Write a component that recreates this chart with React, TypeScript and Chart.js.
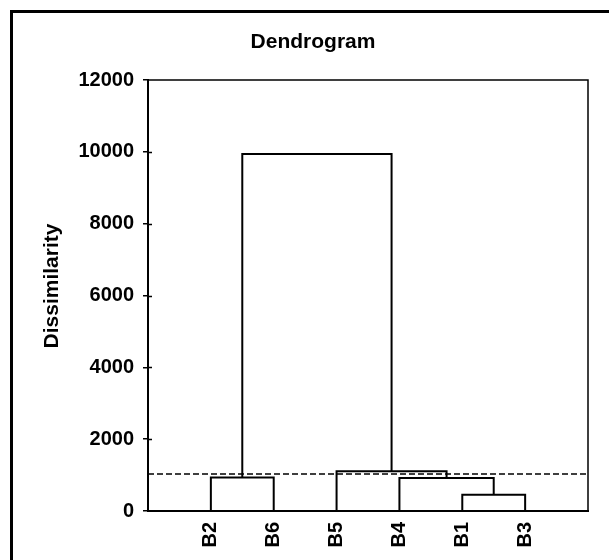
import React, { useEffect, useRef } from "react";
import { Chart, registerables } from "chart.js";

Chart.register(...registerables);

// ---- data ----
const LEAVES = ["B2", "B6", "B5", "B4", "B1", "B3"];
const LEAF_POS = [1, 2, 3, 4, 5, 6];
// agglomeration steps: node ids 0..5 are leaves, each merge creates node 6, 7, ...
const MERGE_A = [4, 3, 0, 2, 8];
const MERGE_B = [5, 6, 1, 7, 9];
const MERGE_HEIGHT = [450, 920, 930, 1110, 9940];
const CUTOFF = 1030;
const Y_MIN = 0;
const Y_MAX = 12000;
const Y_STEP = 2000;
const X_MIN = 0;
const X_MAX = 7;
const TITLE = "Dendrogram";
const Y_TITLE = "Dissimilarity";

const FONT = '"Liberation Sans", Arial, Helvetica, sans-serif';

function buildLinks() {
  const nx: number[] = [...LEAF_POS];
  const nh: number[] = LEAF_POS.map(() => 0);
  const links: { x: number; y: number }[][] = [];
  MERGE_A.forEach((a, i) => {
    const b = MERGE_B[i];
    const h = MERGE_HEIGHT[i];
    links.push([
      { x: nx[a], y: nh[a] },
      { x: nx[a], y: h },
      { x: nx[b], y: h },
      { x: nx[b], y: nh[b] },
    ]);
    nx.push((nx[a] + nx[b]) / 2);
    nh.push(h);
  });
  return links;
}

const decor = {
  id: "decor",
  beforeDraw(chart: any) {
    const { ctx, width, height } = chart;
    ctx.save();
    ctx.fillStyle = "#fff";
    ctx.fillRect(0, 0, width, height);
    ctx.restore();
  },
  afterDraw(chart: any) {
    const { ctx, chartArea } = chart;
    const { left, top, right, bottom } = chartArea;
    const yScale = chart.scales.y;
    ctx.save();
    // outer frame
    ctx.strokeStyle = "#000";
    ctx.lineWidth = 3;
    ctx.beginPath();
    ctx.moveTo(11.5, 620);
    ctx.lineTo(11.5, 11.5);
    ctx.lineTo(700, 11.5);
    ctx.stroke();
    // plot border top & right
    ctx.lineWidth = 1.5;
    ctx.beginPath();
    ctx.moveTo(left, top);
    ctx.lineTo(right, top);
    ctx.lineTo(right, bottom);
    ctx.stroke();
    // inner half of the y tick marks
    ctx.beginPath();
    yScale.ticks.forEach((t: any) => {
      if (t.value === Y_MIN || t.value === Y_MAX) return;
      const py = Math.round(yScale.getPixelForValue(t.value)) + 0.5;
      ctx.moveTo(left, py);
      ctx.lineTo(left + 4, py);
    });
    ctx.stroke();
    // title
    ctx.fillStyle = "#000";
    ctx.font = `bold 21px ${FONT}`;
    ctx.textAlign = "center";
    ctx.textBaseline = "middle";
    ctx.fillText(TITLE, 313, 42);
    // y title
    ctx.translate(52, 286);
    ctx.rotate(-Math.PI / 2);
    ctx.fillText(Y_TITLE, 0, 0);
    ctx.restore();
  },
};

export default function App() {
  const ref = useRef<HTMLCanvasElement | null>(null);
  useEffect(() => {
    document.body.style.margin = "0";
    const links = buildLinks();
    const datasets: any[] = links.map((pts) => ({
      type: "line",
      data: pts,
      borderColor: "#000",
      borderWidth: 2,
      pointRadius: 0,
      tension: 0,
      fill: false,
    }));
    datasets.push({
      type: "line",
      data: [
        { x: X_MIN, y: CUTOFF },
        { x: X_MAX, y: CUTOFF },
      ],
      borderColor: "#000",
      borderWidth: 1.5,
      borderDash: [6, 3],
      pointRadius: 0,
      fill: false,
    });
    const chart = new Chart(ref.current as HTMLCanvasElement, {
      type: "line",
      data: { datasets },
      plugins: [decor],
      options: {
        animation: false,
        responsive: false,
        maintainAspectRatio: false,
        layout: { padding: { left: 0, top: 80, right: 21, bottom: 0 } },
        plugins: {
          legend: { display: false },
          tooltip: { enabled: false },
          title: { display: false },
        },
        scales: {
          x: {
            type: "linear",
            min: X_MIN,
            max: X_MAX,
            afterFit: (s: any) => {
              s.height = 49;
            },
            afterBuildTicks: (s: any) => {
              s.ticks = LEAF_POS.map((v) => ({ value: v }));
            },
            grid: { display: false, drawTicks: false },
            border: { display: true, color: "#000", width: 2 },
            ticks: {
              autoSkip: false,
              minRotation: 90,
              maxRotation: 90,
              padding: 11,
              color: "#000",
              font: { family: FONT, size: 20, weight: "bold" },
              callback: (v: any) => {
                const i = LEAF_POS.indexOf(Number(v));
                return i >= 0 ? LEAVES[i] : "";
              },
            },
          },
          y: {
            type: "linear",
            min: Y_MIN,
            max: Y_MAX,
            afterFit: (s: any) => {
              s.width = 148;
            },
            grid: {
              drawOnChartArea: false,
              drawTicks: true,
              tickLength: 5,
              color: "#000",
              lineWidth: 1.5,
            },
            border: { display: true, color: "#000", width: 2 },
            ticks: {
              stepSize: Y_STEP,
              padding: 9,
              color: "#000",
              font: { family: FONT, size: 20, weight: "bold" },
              callback: (v: any) => String(v),
            },
          },
        },
      } as any,
    });
    return () => chart.destroy();
  }, []);
  return (
    <canvas
      ref={ref}
      width={609}
      height={560}
      style={{ display: "block", width: 609, height: 560 }}
    />
  );
}
